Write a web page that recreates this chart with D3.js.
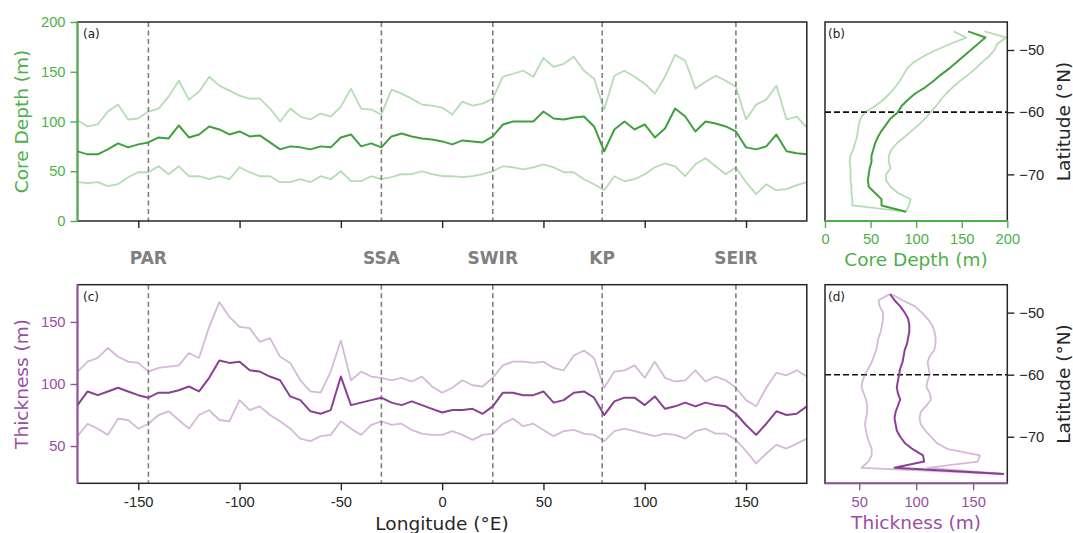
<!DOCTYPE html>
<html>
<head>
<meta charset="utf-8">
<script src="https://cdn.jsdelivr.net/npm/d3@7"></script>
<style>
  body { margin: 0; background: #fff; }
  svg { display: block; font-family: "DejaVu Sans", sans-serif; }
</style>
</head>
<body>
<div id="chart"></div>
<script>
// longitude samples (°E)
const lon = [-180, -175, -170, -165, -160, -155, -150, -145, -140, -135, -130, -125, -120, -115, -110, -105, -100, -95, -90, -85, -80, -75, -70, -65, -60, -55, -50, -45, -40, -35, -30, -25, -20, -15, -10, -5, 0,
  5, 10, 15, 20, 25, 30, 35, 40, 45, 50, 55, 60, 65, 70, 75, 80, 85, 90, 95, 100, 105, 110, 115, 120, 125, 130, 135, 140, 145, 150, 155, 160, 165, 170, 175, 180];

// core depth (m) along longitude
const coreHigh = [101, 95, 97, 110, 117, 102, 103, 110, 113, 125, 141, 122, 130, 145, 136, 131, 126, 123, 123, 113, 100, 113, 105, 102, 108, 105, 115, 133, 113, 112, 107, 132, 128, 123, 117, 116, 114,
  107, 120, 116, 118, 123, 145, 148, 151, 145, 164, 155, 158, 165, 151, 143, 112, 146, 151, 145, 138, 128, 145, 167, 161, 133, 140, 146, 141, 135, 102, 117, 122, 136, 102, 105, 94];
const coreMid = [70, 67, 67, 72, 78, 74, 77, 79, 84, 83, 96, 84, 87, 95, 92, 87, 90, 85, 86, 79, 72, 75, 74, 72, 75, 74, 84, 87, 75, 78, 74, 85, 88, 85, 83, 82, 80,
  77, 81, 80, 79, 85, 97, 100, 100, 100, 110, 103, 102, 104, 105, 95, 70, 92, 100, 92, 97, 84, 93, 113, 105, 90, 100, 98, 95, 90, 74, 72, 75, 87, 70, 68, 67];
const coreLow = [39, 38, 39, 35, 37, 44, 49, 49, 55, 47, 55, 45, 45, 42, 45, 42, 54, 49, 45, 45, 39, 39, 42, 39, 45, 42, 50, 40, 40, 45, 42, 44, 47, 47, 50, 47, 45,
  45, 44, 45, 47, 50, 55, 54, 52, 54, 57, 54, 49, 49, 42, 37, 31, 45, 40, 42, 47, 54, 58, 55, 45, 57, 63, 55, 47, 54, 39, 27, 37, 31, 32, 36, 39];

// thickness (m) along longitude
const thickHigh = [110, 118, 121, 129, 122, 118, 117, 110, 113, 114, 115, 125, 121, 146, 166, 154, 146, 145, 134, 137, 122, 117, 103, 94, 93, 110, 135, 103, 110, 106, 105, 103, 105, 102, 106, 98, 93,
  97, 103, 99, 98, 105, 115, 118, 118, 117, 118, 113, 111, 123, 127, 121, 97, 110, 111, 115, 105, 118, 105, 102, 103, 111, 102, 106, 103, 97, 87, 82, 97, 109, 107, 111, 106];
const thickMid = [83, 94, 91, 94, 97, 94, 91, 89, 93, 93, 95, 98, 94, 105, 119, 117, 118, 111, 110, 106, 103, 90, 87, 78, 76, 79, 106, 83, 85, 87, 89, 85, 83, 86, 83, 80, 77,
  79, 79, 80, 76, 82, 93, 93, 91, 91, 94, 85, 87, 93, 94, 89, 75, 86, 89, 89, 83, 90, 80, 82, 85, 82, 85, 83, 82, 76, 67, 59, 68, 78, 75, 76, 82];
const thickLow = [58, 68, 64, 59, 72, 71, 64, 68, 75, 78, 71, 64, 75, 79, 71, 70, 87, 79, 82, 75, 70, 64, 56, 54, 58, 59, 70, 64, 59, 67, 70, 67, 68, 63, 60, 59, 59,
  62, 59, 55, 59, 60, 68, 72, 66, 68, 63, 58, 62, 63, 60, 59, 54, 62, 64, 62, 60, 58, 60, 59, 56, 62, 64, 60, 60, 55, 46, 36, 44, 51, 48, 52, 56];

// latitude samples (°N) for the zonal-mean profiles
const lat = [-47, -48, -49, -50, -51, -52, -53, -54, -55, -56, -57, -58, -59, -60, -61, -62, -63, -64, -65, -66, -67, -68, -69, -70, -71, -72, -73, -74, -75, -76];

const coreProfHigh = [175, 199, 189, 186, 180, 172, 165, 157, 148, 140, 133, 127, 122, 116, 110, 103, 95, 87, 79, 73, 70, 70, 72, 67, 67, 72, 80, 94, 92, 89];
const coreProfMid = [157, 176, 168, 160, 152, 144, 136, 127, 119, 110, 99, 91, 84, 80, 72, 67, 62, 58, 55, 53, 51, 51, 49, 48, 47, 48, 55, 62, 62, 89];
const coreProfLow = [141, 155, 138, 122, 108, 97, 90, 86, 82, 77, 71, 64, 55, 44, 39, 37, 36, 35, 33, 31, 28, 27, 28, 28, 28, 29, 29, 30, 30, 88];

const thickProfHigh = [78, 88, 99, 105, 110, 114, 116, 117, 117, 116, 112, 110, 111, 112, 110, 109, 112, 113, 109, 104, 103, 104, 108, 113, 118, 128, 156, 154, 110, 177];
const thickProfMid = [77, 81, 86, 90, 93, 94, 94, 93, 92, 90, 89, 88, 86, 85, 84, 83, 84, 86, 84, 82, 81, 82, 83, 86, 90, 97, 106, 107, 81, 177];
const thickProfLow = [77, 67, 68, 71, 71, 70, 69, 67, 66, 65, 63, 61, 58, 55, 53, 52, 54, 56, 57, 57, 56, 55, 56, 57, 59, 61, 61, 58, 52, 177];

// ridge / plateau longitudes
const ridgeNames = ["PAR", "SSA", "SWIR", "KP", "SEIR"];
const ridgeLon = [-145, -30, 25, 79, 145];
const latLine = -60;

const green = "#4daf4a";
const greenDark = "#40a03e";
const purple = "#984ea3";
const purpleDark = "#8a3f96";
const ink = "#262626";
const tickFont = "14.7px";
const labelFont = "18.5px";

const svg = d3.select("#chart").append("svg")
  .attr("width", 1073)
  .attr("height", 533);

// scales
const xLon = d3.scaleLinear().domain([-180, 180]).range([77.5, 806.8]);
const yCore = d3.scaleLinear().domain([0, 200]).range([221, 22]);
const yThick = d3.scaleLinear().domain([20, 180]).range([483.3, 284.7]);
const xCore = d3.scaleLinear().domain([0, 200]).range([825, 1007.3]);
const xThick = d3.scaleLinear().domain([20, 180]).range([825, 1007.3]);
const yLatA = d3.scaleLinear().domain([-77.5, -45.5]).range([221, 22]);
const yLatB = d3.scaleLinear().domain([-77.5, -45.5]).range([483.3, 284.7]);

function styleAxis(g, color) {
  g.select(".domain").remove();
  g.selectAll(".tick line").attr("stroke", color).attr("stroke-width", 1.4);
  g.selectAll(".tick text").attr("fill", color).style("font-size", tickFont);
}

// dashed ridge lines (drawn first, under the curves)
function ridgeLines(y0, y1) {
  svg.append("g").selectAll("line")
    .data(ridgeLon)
    .join("line")
    .attr("x1", d => xLon(d)).attr("x2", d => xLon(d))
    .attr("y1", y0).attr("y2", y1)
    .attr("stroke", "#808080")
    .attr("stroke-width", 1.6)
    .attr("stroke-dasharray", "5,3.5");
}
ridgeLines(yCore.range()[1], yCore.range()[0]);
ridgeLines(yThick.range()[1], yThick.range()[0]);

// horizontal -60 lines in the profile panels
[yLatA, yLatB].forEach(ys => {
  svg.append("line")
    .attr("x1", xCore.range()[0]).attr("x2", xCore.range()[1])
    .attr("y1", ys(latLine)).attr("y2", ys(latLine))
    .attr("stroke", "#111")
    .attr("stroke-width", 1.6)
    .attr("stroke-dasharray", "6,3");
});

// longitude series
function lonLine(values, yScale, color, alpha, w) {
  svg.append("path")
    .datum(values)
    .attr("d", d3.line().x((d, i) => xLon(lon[i])).y(d => yScale(d)))
    .attr("fill", "none")
    .attr("stroke", color)
    .attr("stroke-opacity", alpha)
    .attr("stroke-width", w)
    .attr("stroke-linejoin", "round");
}
lonLine(coreHigh, yCore, green, 0.42, 1.8);
lonLine(coreLow, yCore, green, 0.42, 1.8);
lonLine(coreMid, yCore, greenDark, 1, 2);
lonLine(thickHigh, yThick, purple, 0.4, 1.8);
lonLine(thickLow, yThick, purple, 0.4, 1.8);
lonLine(thickMid, yThick, purpleDark, 1, 2);

// latitude profiles
function profLine(values, xScale, yScale, color, alpha, w) {
  svg.append("path")
    .datum(values)
    .attr("d", d3.line().x(d => xScale(d)).y((d, i) => yScale(lat[i])))
    .attr("fill", "none")
    .attr("stroke", color)
    .attr("stroke-opacity", alpha)
    .attr("stroke-width", w)
    .attr("stroke-linejoin", "round");
}
profLine(coreProfHigh, xCore, yLatA, green, 0.42, 1.8);
profLine(coreProfLow, xCore, yLatA, green, 0.42, 1.8);
profLine(coreProfMid, xCore, yLatA, greenDark, 1, 2);
profLine(thickProfHigh, xThick, yLatB, purple, 0.4, 1.8);
profLine(thickProfLow, xThick, yLatB, purple, 0.4, 1.8);
profLine(thickProfMid, xThick, yLatB, purpleDark, 1, 2);

// frames: dark box, coloured spine on the measured axis
function frame(xs, ys, side, color) {
  const [x0, x1] = xs.range();
  const [y1, y0] = ys.range();
  svg.append("rect")
    .attr("x", x0).attr("y", y0)
    .attr("width", x1 - x0).attr("height", y1 - y0)
    .attr("fill", "none")
    .attr("stroke", ink)
    .attr("stroke-width", 1.5);
  const l = svg.append("line").attr("stroke", color).attr("stroke-width", 1.8);
  if (side === "left") l.attr("x1", x0).attr("x2", x0).attr("y1", y0 - 0.7).attr("y2", y1 + 0.7);
  else l.attr("x1", x0 - 0.7).attr("x2", x1 + 0.7).attr("y1", y1).attr("y2", y1);
}
frame(xLon, yCore, "left", green);
frame(xLon, yThick, "left", purple);
frame(xCore, yLatA, "bottom", green);
frame(xThick, yLatB, "bottom", purple);

// axes, panel (a)
svg.append("g")
  .attr("transform", `translate(${xLon.range()[0]},0)`)
  .call(d3.axisLeft(yCore).tickValues([0, 50, 100, 150, 200]).tickSize(7).tickPadding(5))
  .call(g => styleAxis(g, green));
svg.append("g")
  .attr("transform", `translate(0,${yCore.range()[0]})`)
  .call(d3.axisBottom(xLon).tickValues([-150, -100, -50, 0, 50, 100, 150]).tickFormat("").tickSize(7))
  .call(g => styleAxis(g, ink));

// axes, panel (c)
svg.append("g")
  .attr("transform", `translate(${xLon.range()[0]},0)`)
  .call(d3.axisLeft(yThick).tickValues([50, 100, 150]).tickSize(7).tickPadding(5))
  .call(g => styleAxis(g, purple));
svg.append("g")
  .attr("transform", `translate(0,${yThick.range()[0]})`)
  .call(d3.axisBottom(xLon).tickValues([-150, -100, -50, 0, 50, 100, 150]).tickFormat(d => String(d)).tickSize(7).tickPadding(6))
  .call(g => styleAxis(g, ink));

// axes, panel (b)
svg.append("g")
  .attr("transform", `translate(0,${yLatA.range()[0]})`)
  .call(d3.axisBottom(xCore).tickValues([0, 50, 100, 150, 200]).tickSize(7).tickPadding(6))
  .call(g => styleAxis(g, green));
svg.append("g")
  .attr("transform", `translate(${xCore.range()[1]},0)`)
  .call(d3.axisRight(yLatA).tickValues([-50, -60, -70]).tickSize(7).tickPadding(5))
  .call(g => styleAxis(g, ink));

// axes, panel (d)
svg.append("g")
  .attr("transform", `translate(0,${yLatB.range()[0]})`)
  .call(d3.axisBottom(xThick).tickValues([50, 100, 150]).tickSize(7).tickPadding(6))
  .call(g => styleAxis(g, purple));
svg.append("g")
  .attr("transform", `translate(${xThick.range()[1]},0)`)
  .call(d3.axisRight(yLatB).tickValues([-50, -60, -70]).tickSize(7).tickPadding(5))
  .call(g => styleAxis(g, ink));

// ridge names between the two longitude panels
svg.append("g").selectAll("text")
  .data(ridgeNames)
  .join("text")
  .attr("x", (d, i) => xLon(ridgeLon[i]))
  .attr("y", 258)
  .attr("dy", "0.36em")
  .attr("text-anchor", "middle")
  .style("font-size", "17px")
  .style("font-weight", "bold")
  .attr("fill", "#808080")
  .text(d => d);

// panel tags
[["(a)", 83, 38], ["(b)", 828, 38], ["(c)", 83, 301], ["(d)", 828, 301]].forEach(([t, x, y]) => {
  svg.append("text").attr("x", x).attr("y", y)
    .style("font-size", "12px").attr("fill", "#222").text(t);
});

// axis titles
function vLabel(text, x, y, color) {
  svg.append("text")
    .attr("transform", `translate(${x},${y}) rotate(-90)`)
    .attr("text-anchor", "middle")
    .attr("dy", "0.35em")
    .style("font-size", labelFont)
    .attr("fill", color)
    .text(text);
}
function hLabel(text, x, y, color) {
  svg.append("text")
    .attr("x", x).attr("y", y)
    .attr("text-anchor", "middle")
    .attr("dy", "0.35em")
    .style("font-size", labelFont)
    .attr("fill", color)
    .text(text);
}
vLabel("Core Depth (m)", 22, 121.5, green);
vLabel("Thickness (m)", 22, 384, purple);
vLabel("Latitude (°N)", 1064, 121.5, ink);
vLabel("Latitude (°N)", 1064, 384, ink);
hLabel("Core Depth (m)", 916, 260, green);
hLabel("Thickness (m)", 916, 523, purple);
hLabel("Longitude (°E)", 442, 524, ink);
</script>
</body>
</html>
